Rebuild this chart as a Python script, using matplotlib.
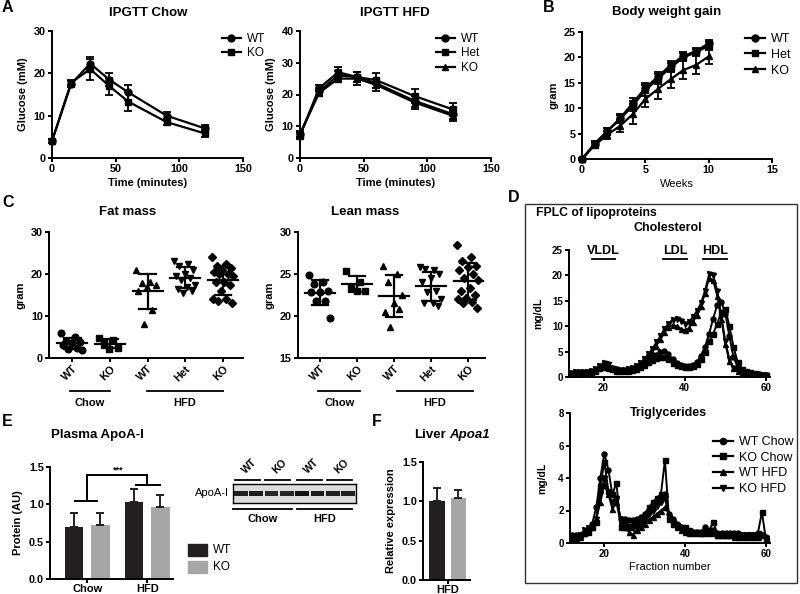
import numpy as np
import matplotlib
matplotlib.use('Agg')
import matplotlib.pyplot as plt
from matplotlib.lines import Line2D
from matplotlib.patches import Rectangle

plt.rcParams['font.family'] = ['Liberation Sans', 'DejaVu Sans']

# ---------------- DATA ----------------
ipgtt_time = [0, 15, 30, 45, 60, 90, 120]
chow_wt = [4.0, 17.5, 22.3, 18.5, 15.5, 10.0, 7.0]
chow_wt_err = [0.5, 0.8, 1.5, 1.5, 1.7, 0.8, 0.8]
chow_ko = [4.0, 17.8, 21.0, 17.0, 13.3, 8.5, 5.8]
chow_ko_err = [0.5, 0.6, 2.5, 2.0, 2.2, 0.7, 0.8]

hfd_wt = [7.5, 21.0, 26.0, 25.5, 23.5, 18.0, 13.8]
hfd_wt_err = [1.0, 1.2, 1.5, 1.5, 1.5, 1.8, 1.5]
hfd_het = [7.0, 22.0, 27.0, 25.5, 24.5, 19.5, 15.3]
hfd_het_err = [1.0, 1.0, 1.8, 1.5, 2.3, 2.3, 2.0]
hfd_ko = [7.5, 20.5, 25.0, 25.0, 23.0, 17.5, 13.3]
hfd_ko_err = [1.0, 1.0, 1.0, 2.0, 2.0, 2.0, 1.5]

weeks = [0, 1, 2, 3, 4, 5, 6, 7, 8, 9, 10]
bw_wt = [0, 3.0, 5.5, 8.0, 11.0, 14.0, 16.2, 18.5, 20.3, 21.2, 22.8]
bw_wt_err = [0.2, 0.5, 0.7, 0.8, 1.0, 1.0, 1.0, 0.8, 0.8, 0.6, 0.7]
bw_het = [0, 3.0, 5.5, 7.8, 10.5, 13.5, 15.8, 18.0, 20.0, 21.0, 22.3]
bw_het_err = [0.2, 0.5, 0.7, 0.8, 1.0, 1.0, 1.0, 0.8, 0.8, 0.6, 0.8]
bw_ko = [0, 2.7, 4.8, 6.5, 8.8, 11.8, 13.8, 15.7, 17.5, 18.5, 20.2]
bw_ko_err = [0.2, 0.5, 0.8, 1.2, 2.0, 1.5, 2.0, 1.8, 1.8, 1.8, 1.5]

comp_groups = ['WT', 'KO', 'WT', 'Het', 'KO']
fat_mass = [
    [6.0, 5.0, 4.0, 3.8, 3.5, 3.0, 2.5, 2.2, 2.0],
    [4.8, 4.2, 3.5, 2.5, 2.2],
    [21.0, 18.0, 17.8, 17.5, 17.0, 16.0, 11.5, 8.0],
    [23.0, 22.5, 22.0, 21.0, 20.0, 19.5, 19.0, 18.5, 17.5, 17.0, 16.5, 16.0, 15.5],
    [24.0, 22.5, 22.0, 21.5, 21.0, 20.5, 20.0, 20.0, 19.5, 18.0, 18.0, 17.5, 16.0, 14.0, 14.0, 13.5, 13.0],
]
lean_mass = [
    [24.9, 24.0, 23.8, 23.0, 22.8, 22.8, 21.8, 21.8, 19.8],
    [25.3, 24.0, 23.5, 23.0, 23.0],
    [26.0, 25.0, 24.0, 22.5, 21.5, 20.5, 20.8, 18.7],
    [25.8, 25.5, 25.6, 25.0, 24.5, 24.0, 23.0, 22.8, 22.0, 21.5, 21.5, 21.2],
    [28.5, 27.0, 26.5, 26.0, 25.8, 25.5, 25.0, 24.5, 24.3, 23.3, 23.0, 22.5, 22.2, 22.0, 21.7, 21.5, 21.0],
]

fractions = list(range(12, 61))
chol_wt_chow = [0.6,0.7,0.8,0.8,0.9,1.0,1.3,1.8,2.2,2.0,1.6,1.3,1.2,1.2,1.3,1.5,1.8,2.1,2.6,3.2,3.8,4.4,5.0,5.2,4.5,3.5,2.8,2.4,2.2,2.2,2.4,3.0,4.2,6.0,8.5,11.5,14.2,14.8,12.5,8.0,4.0,2.0,1.2,0.9,0.8,0.6,0.5,0.4,0.3]
chol_ko_chow = [0.5,0.6,0.7,0.8,0.8,0.9,1.2,1.7,2.0,1.8,1.5,1.2,1.1,1.1,1.2,1.4,1.6,2.0,2.4,2.9,3.3,3.7,3.9,4.0,3.5,2.8,2.3,2.1,2.0,2.0,2.2,2.6,3.5,5.0,7.0,8.5,10.5,12.8,13.4,10.0,6.0,3.0,1.6,1.2,0.9,0.7,0.5,0.4,0.3]
chol_wt_hfd = [0.7,0.8,0.9,0.9,1.0,1.0,1.3,2.0,2.5,2.2,1.7,1.4,1.3,1.3,1.4,1.7,2.0,2.5,3.2,4.0,5.0,6.2,7.5,8.8,9.8,10.2,10.0,9.5,9.2,9.6,10.8,12.2,14.0,16.5,19.5,19.0,16.0,11.5,6.5,3.2,1.7,1.1,0.9,0.8,0.6,0.5,0.5,0.4,0.3]
chol_ko_hfd = [0.8,0.9,1.0,1.0,1.0,1.1,1.5,2.2,2.8,2.5,1.8,1.5,1.3,1.3,1.5,1.8,2.2,2.8,3.5,4.5,5.5,6.8,8.0,9.5,10.5,11.3,11.5,11.0,10.5,10.8,11.8,13.0,14.5,17.0,20.2,20.0,17.0,12.0,7.0,3.5,1.8,1.2,1.0,0.8,0.7,0.6,0.5,0.4,0.3]

tg_wt_chow = [0.5,0.5,0.5,0.6,0.8,1.2,2.2,4.0,5.5,4.5,3.0,2.8,1.5,1.5,1.4,1.4,1.5,1.6,1.8,2.0,2.3,2.5,2.8,3.0,1.8,1.5,1.2,1.0,0.8,0.7,0.7,0.7,0.7,1.0,0.7,0.8,0.6,0.6,0.6,0.6,0.6,0.6,0.5,0.5,0.5,0.5,0.5,0.5,0.4]
tg_ko_chow = [0.4,0.4,0.5,0.6,0.7,1.0,1.3,3.5,5.0,3.2,3.0,3.7,1.0,1.0,1.0,1.2,1.4,1.5,1.8,2.2,2.5,2.8,3.0,5.1,1.5,1.2,1.1,1.0,1.0,0.8,0.7,0.7,0.6,0.6,0.8,1.3,0.5,0.5,0.5,0.5,0.5,0.5,0.5,0.5,0.5,0.5,0.6,1.9,0.2]
tg_wt_hfd = [0.2,0.3,0.4,0.6,0.8,1.0,1.5,2.5,3.6,3.0,2.1,2.5,1.3,1.0,0.7,0.5,0.8,1.0,1.2,1.4,1.6,1.8,2.0,2.2,1.8,1.3,1.0,0.8,0.7,0.6,0.6,0.6,0.6,0.7,0.6,0.6,0.5,0.5,0.5,0.5,0.4,0.4,0.4,0.4,0.4,0.4,0.4,0.5,0.3]
tg_ko_hfd = [0.3,0.3,0.5,0.8,0.9,1.0,1.5,3.0,4.0,3.0,2.5,2.8,1.5,1.2,1.0,0.9,1.0,1.2,1.5,1.8,2.0,2.3,2.5,2.8,1.6,1.3,1.0,0.8,0.7,0.6,0.6,0.6,0.6,0.6,0.6,0.6,0.5,0.5,0.5,0.5,0.5,0.5,0.5,0.5,0.5,0.5,0.5,0.5,0.3]

apoa_groups = ['Chow', 'HFD']
apoa_wt = [0.70, 1.03]
apoa_wt_err = [0.18, 0.17]
apoa_ko = [0.72, 0.96]
apoa_ko_err = [0.16, 0.16]

blot_lanes = ['WT', 'WT', 'KO', 'KO', 'WT', 'WT', 'KO', 'KO']
blot_intensity = [0.85, 0.9, 0.8, 0.8, 0.95, 0.9, 0.85, 0.85]

liver_wt = [1.00]
liver_wt_err = [0.17]
liver_ko = [1.04]
liver_ko_err = [0.11]

# ---------------- LAYOUT HELPERS ----------------
W, H = 800, 594
fig = plt.figure(figsize=(8, 5.94), dpi=100)
DARK = '#231f20'
GRAY = '#a6a6a6'
TICK = 7.8
LAB = 8
TITLE = 9.5


def add_ax(l, t, r, b):
    return fig.add_axes([l / W, 1 - b / H, (r - l) / W, (b - t) / H])


def ftext(x, y, s, **kw):
    kw.setdefault('ha', 'center')
    kw.setdefault('va', 'center')
    return fig.text(x / W, 1 - y / H, s, **kw)


def prism(ax, fs=TICK):
    for s in ['top', 'right']:
        ax.spines[s].set_visible(False)
    for s in ['left', 'bottom']:
        ax.spines[s].set_linewidth(1.4)
    ax.tick_params(direction='out', length=3, width=1.4, labelsize=fs, pad=1.5)
    for lab in ax.get_xticklabels() + ax.get_yticklabels():
        lab.set_fontweight('bold')
    ax.patch.set_alpha(0)


def flabel(x, y, s):
    ftext(x, y, s, fontsize=11.5, fontweight='bold', ha='left')


def legend_at(ax, handles, labels, x, y, fs=8.5, spacing=0.2):
    ax.legend(handles, labels, loc='upper left', bbox_to_anchor=(x / W, 1 - y / H),
              bbox_transform=fig.transFigure, frameon=False, fontsize=fs,
              handlelength=1.6, handletextpad=0.5, labelspacing=spacing, borderpad=0,
              borderaxespad=0)


def mk(m):
    return Line2D([], [], color='black', marker=m, ms=5, lw=1.6)


def series(ax, x, y, e, m, ms=5):
    ax.errorbar(x, y, yerr=e, color='black', marker=m, ms=ms, lw=1.6,
                capsize=2.7, elinewidth=1.3, capthick=1.3, clip_on=False)

# ---------------- PANEL A: IPGTT Chow ----------------
ax = add_ax(52, 31, 243, 158)
series(ax, ipgtt_time, chow_wt, chow_wt_err, 'o')
series(ax, ipgtt_time, chow_ko, chow_ko_err, 's')
ax.set_xlim(0, 150); ax.set_ylim(0, 30)
ax.set_xticks([0, 50, 100, 150]); ax.set_yticks([0, 10, 20, 30])
prism(ax)
ax.set_xlabel('Time (minutes)', fontsize=LAB, fontweight='bold', labelpad=3)
ax.set_ylabel('Glucose (mM)', fontsize=LAB, fontweight='bold', labelpad=4)
legend_at(ax, [mk('o'), mk('s')], ['WT', 'KO'], 222, 33)
ftext(148, 13, 'IPGTT Chow', fontsize=TITLE, fontweight='bold')
flabel(2, 8, 'A')

# ---------------- PANEL A: IPGTT HFD ----------------
ax = add_ax(300, 31, 491, 158)
series(ax, ipgtt_time, hfd_wt, hfd_wt_err, 'o')
series(ax, ipgtt_time, hfd_het, hfd_het_err, 's')
series(ax, ipgtt_time, hfd_ko, hfd_ko_err, '^')
ax.set_xlim(0, 150); ax.set_ylim(0, 40)
ax.set_xticks([0, 50, 100, 150]); ax.set_yticks([0, 10, 20, 30, 40])
prism(ax)
ax.set_xlabel('Time (minutes)', fontsize=LAB, fontweight='bold', labelpad=3)
ax.set_ylabel('Glucose (mM)', fontsize=LAB, fontweight='bold', labelpad=4)
legend_at(ax, [mk('o'), mk('s'), mk('^')], ['WT', 'Het', 'KO'], 436, 33)
ftext(395, 13, 'IPGTT HFD', fontsize=TITLE, fontweight='bold')

# ---------------- PANEL B: Body weight gain ----------------
ax = add_ax(582, 32, 772, 159)
series(ax, weeks, bw_wt, bw_wt_err, 'o')
series(ax, weeks, bw_het, bw_het_err, 's')
series(ax, weeks, bw_ko, bw_ko_err, '^')
ax.set_xlim(0, 15); ax.set_ylim(0, 25)
ax.set_xticks([0, 5, 10, 15]); ax.set_yticks([0, 5, 10, 15, 20, 25])
prism(ax)
ax.set_xlabel('Weeks', fontsize=LAB, labelpad=3)
ax.set_ylabel('gram', fontsize=LAB, fontweight='bold', labelpad=4)
legend_at(ax, [mk('o'), mk('s'), mk('^')], ['WT', 'Het', 'KO'], 745, 33, fs=9, spacing=0.3)
ftext(667, 12, 'Body weight gain', fontsize=TITLE, fontweight='bold')
flabel(543, 8, 'B')

# ---------------- PANEL C: scatter plots ----------------
markers_c = ['o', 's', '^', 'v', 'D']


def scatter_panel(ax, data):
    for i, vals in enumerate(data):
        v = np.array(vals)
        n = len(v)
        offs = np.array([((k * 0.618) % 1.0 - 0.5) * 0.6 for k in range(n)])
        ax.plot(i + offs, v, linestyle='none', marker=markers_c[i], color='black',
                ms=4.8 if markers_c[i] != 'D' else 4.0, clip_on=False)
        m, sd = v.mean(), v.std(ddof=1)
        ax.plot([i - 0.4, i + 0.4], [m, m], color='black', lw=1.6)
        ax.plot([i - 0.22, i + 0.22], [m - sd, m - sd], color='black', lw=1.6)
        ax.plot([i - 0.22, i + 0.22], [m + sd, m + sd], color='black', lw=1.6)
        ax.plot([i, i], [m - sd, m + sd], color='black', lw=1.6)
    ax.set_xticks(range(len(data)))
    ax.set_xticklabels(comp_groups, rotation=45, ha='right', rotation_mode='anchor')


ax = add_ax(49, 232, 243, 358)
scatter_panel(ax, fat_mass)
ax.set_xlim(-0.62, 4.53); ax.set_ylim(0, 30)
ax.set_yticks([0, 10, 20, 30])
prism(ax)
ax.tick_params(axis='x', pad=1)
ax.set_ylabel('gram', fontsize=LAB, fontweight='bold', labelpad=4)
ftext(128, 212, 'Fat mass', fontsize=TITLE, fontweight='bold')
fig.add_artist(Line2D([70 / W, 110 / W], [1 - 391 / H] * 2, color='black', lw=1.3))
fig.add_artist(Line2D([147 / W, 223 / W], [1 - 391 / H] * 2, color='black', lw=1.3))
ftext(90, 403, 'Chow', fontsize=LAB, fontweight='bold')
ftext(185, 403, 'HFD', fontsize=LAB, fontweight='bold')
flabel(2, 203, 'C')

ax = add_ax(298, 232, 485, 358)
scatter_panel(ax, lean_mass)
ax.set_xlim(-0.6, 4.45); ax.set_ylim(15, 30)
ax.set_yticks([15, 20, 25, 30])
prism(ax)
ax.tick_params(axis='x', pad=1)
ax.set_ylabel('gram', fontsize=LAB, fontweight='bold', labelpad=4)
ftext(365, 212, 'Lean mass', fontsize=TITLE, fontweight='bold')
fig.add_artist(Line2D([318 / W, 360 / W], [1 - 391 / H] * 2, color='black', lw=1.3))
fig.add_artist(Line2D([397 / W, 473 / W], [1 - 391 / H] * 2, color='black', lw=1.3))
ftext(340, 403, 'Chow', fontsize=LAB, fontweight='bold')
ftext(435, 403, 'HFD', fontsize=LAB, fontweight='bold')

# ---------------- PANEL D: FPLC ----------------
fig.add_artist(Rectangle((525 / W, 1 - 583 / H), (797 - 525) / W, (583 - 204) / H,
                         transform=fig.transFigure, fill=False, lw=1.0, ec='#333333'))
flabel(508, 197, 'D')
ftext(536, 213, 'FPLC of lipoproteins', fontsize=8.8, fontweight='bold', ha='left')

fpl_styles = [('o', chol_wt_chow, tg_wt_chow, 'WT Chow'),
              ('s', chol_ko_chow, tg_ko_chow, 'KO Chow'),
              ('^', chol_wt_hfd, tg_wt_hfd, 'WT HFD'),
              ('v', chol_ko_hfd, tg_ko_hfd, 'KO HFD')]

ax = add_ax(569, 250, 770, 377)
for m, c, t, lab in fpl_styles:
    ax.plot(fractions, c, color='black', marker=m, ms=3.6, lw=1.4)
ax.set_xlim(11.5, 61); ax.set_ylim(0, 25)
ax.set_xticks([20, 40, 60]); ax.set_yticks([0, 5, 10, 15, 20, 25])
prism(ax, fs=7)
ax.set_ylabel('mg/dL', fontsize=7.5, fontweight='bold', labelpad=6)
ftext(668, 228, 'Cholesterol', fontsize=9, fontweight='bold')
for lab, x0, x1 in [('VLDL', 592, 615), ('LDL', 663, 687), ('HDL', 703, 727)]:
    ftext((x0 + x1) / 2, 251, lab, fontsize=9, fontweight='bold')
    fig.add_artist(Line2D([x0 / W, x1 / W], [1 - 259 / H] * 2, color='black', lw=1.3))

ax = add_ax(570, 413, 770, 543)
hs = []
for m, c, t, lab in fpl_styles:
    ax.plot(fractions, t, color='black', marker=m, ms=3.6, lw=1.4)
    hs.append(Line2D([], [], color='black', marker=m, ms=4.5, lw=1.6))
ax.set_xlim(11.5, 61); ax.set_ylim(0, 8)
ax.set_xticks([20, 40, 60]); ax.set_yticks([0, 2, 4, 6, 8])
prism(ax, fs=7)
ax.set_ylabel('mg/dL', fontsize=7.5, fontweight='bold', labelpad=8)
ax.set_xlabel('Fraction number', fontsize=8, labelpad=2)
ftext(668, 413, 'Triglycerides', fontsize=9, fontweight='bold')
legend_at(ax, hs, [s[3] for s in fpl_styles], 713, 436, fs=9, spacing=0.3)

# ---------------- PANEL E: Plasma ApoA-I ----------------
ax = add_ax(50, 467, 173, 579)
xg = np.arange(len(apoa_groups))
off, bw = 0.22, 0.31
ax.bar(xg - off, apoa_wt, bw, color=DARK, yerr=[[0] * 2, apoa_wt_err],
       error_kw=dict(capsize=3, elinewidth=1.4, capthick=1.4, ecolor=DARK))
ax.bar(xg + off, apoa_ko, bw, color=GRAY, yerr=[[0] * 2, apoa_ko_err],
       error_kw=dict(capsize=3, elinewidth=1.4, capthick=1.4, ecolor=DARK))
ax.set_xlim(-0.62, 1.43); ax.set_ylim(0, 1.5)
ax.set_xticks(xg); ax.set_xticklabels(apoa_groups)
ax.set_yticks([0, 0.5, 1.0, 1.5])
ax.set_yticklabels(['0.0', '0.5', '1.0', '1.5'])
prism(ax)
ax.tick_params(axis='x', labelsize=8, pad=0.5)
ax.set_ylabel('Protein (AU)', fontsize=LAB, fontweight='bold', labelpad=4)
bk = dict(color='black', lw=1.4, clip_on=False)
ax.plot([-0.2, 0.17], [1.05, 1.05], **bk)
ax.plot([0, 0], [1.05, 1.39], **bk)
ax.plot([0.81, 1.22], [1.26, 1.26], **bk)
ax.plot([1.0, 1.0], [1.26, 1.39], **bk)
ax.plot([0, 1.0], [1.39, 1.39], **bk)
ax.text(0.52, 1.40, '***', ha='center', va='bottom', fontsize=6.5, fontweight='bold')
ftext(97, 435, 'Plasma ApoA-I', fontsize=TITLE, fontweight='bold')
flabel(2, 421, 'E')
for i, (lab, col) in enumerate([('WT', DARK), ('KO', GRAY)]):
    yy = 550 + i * 17
    fig.add_artist(Rectangle((188 / W, 1 - (yy + 6) / H), 19 / W, 12 / H,
                             transform=fig.transFigure, color=col))
    ftext(213, yy, lab, fontsize=8.5, ha='left')

# Western blot
bax = add_ax(233, 484, 356, 503)
bax.set_facecolor('#dcdcdc')
lx = np.arange(len(blot_lanes))
bax.bar(lx, [0.24] * len(lx), 0.9, bottom=0.38, color=[str(0.55 - 0.5 * v) for v in blot_intensity])
bax.set_xlim(-0.5, len(lx) - 0.5); bax.set_ylim(0, 1)
bax.set_xticks([]); bax.set_yticks([])
for s in bax.spines.values():
    s.set_linewidth(1.0)
ftext(229, 493, 'ApoA-I', fontsize=8, ha='right')
for lab, x0, x1 in [('WT', 235, 260), ('KO', 265, 290), ('WT', 297, 322), ('KO', 327, 352)]:
    fig.add_artist(Line2D([x0 / W, x1 / W], [1 - 480 / H] * 2, color='black', lw=1.3))
    ftext((x0 + x1) / 2 + 2, 466, lab, fontsize=7.5, fontweight='bold', rotation=45)
for lab, x0, x1 in [('Chow', 233, 292), ('HFD', 297, 352)]:
    fig.add_artist(Line2D([x0 / W, x1 / W], [1 - 509 / H] * 2, color='black', lw=1.3))
    ftext((x0 + x1) / 2, 519, lab, fontsize=8, fontweight='bold')

# ---------------- PANEL F: Liver Apoa1 ----------------
ax = add_ax(423, 462, 470, 580)
ax.bar([-0.25], liver_wt, 0.38, color=DARK, yerr=[[0], liver_wt_err],
       error_kw=dict(capsize=3, elinewidth=1.4, capthick=1.4, ecolor=DARK))
ax.bar([0.25], liver_ko, 0.36, color=GRAY, yerr=[[0], liver_ko_err],
       error_kw=dict(capsize=3, elinewidth=1.4, capthick=1.4, ecolor=DARK))
ax.set_xlim(-0.57, 0.52); ax.set_ylim(0, 1.5)
ax.set_xticks([0]); ax.set_xticklabels(['HFD'])
ax.set_yticks([0, 0.5, 1.0, 1.5])
ax.set_yticklabels(['0.0', '0.5', '1.0', '1.5'])
prism(ax)
ax.tick_params(axis='x', labelsize=8, pad=0.5)
ax.set_ylabel('Relative expression', fontsize=LAB, fontweight='bold', labelpad=4)
ftext(446, 435, 'Liver', fontsize=TITLE, fontweight='bold', ha='right')
ftext(449, 435, 'Apoa1', fontsize=TITLE, fontweight='bold', fontstyle='italic', ha='left')
flabel(372, 421, 'F')

fig.savefig('out.png', dpi=100)
